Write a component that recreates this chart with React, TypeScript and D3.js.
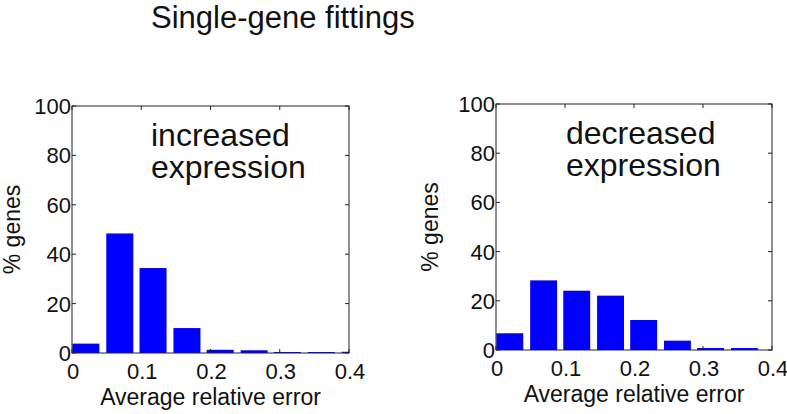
import { useMemo } from "react";
import * as d3 from "d3";

const binCenters = [0.02, 0.069, 0.117, 0.166, 0.214, 0.263, 0.311, 0.36, 0.409];
const increasedValues = [3.8, 48.4, 34.4, 10.1, 1.3, 1.1, 0.4, 0.4, 0.5];
const decreasedValues = [6.8, 28.3, 24.1, 22.1, 12.2, 3.8, 0.8, 0.8, 0];
const xTicks = [0, 0.1, 0.2, 0.3, 0.4];
const yTicks = [0, 20, 40, 60, 80, 100];
const barWidth = 0.039;

const FONT = "'Liberation Sans', Arial, Helvetica, sans-serif";

const Panel = ({ id, left, right, top, bottom, values, labelLines, labelX, yLabelX }) => {
  const xScale = useMemo(
    () => d3.scaleLinear().domain([0, 0.4]).range([left, right]),
    [left, right]
  );
  const yScale = useMemo(
    () => d3.scaleLinear().domain([0, 100]).range([bottom, top]),
    [top, bottom]
  );
  const tick = 4;

  return (
    <g>
      <defs>
        <clipPath id={id}>
          <rect x={left} y={top} width={right - left} height={bottom - top} />
        </clipPath>
      </defs>
      <g clipPath={`url(#${id})`}>
        {binCenters.map((c, i) => (
          <rect
            key={i}
            x={xScale(c - barWidth / 2)}
            y={yScale(values[i])}
            width={xScale(barWidth) - xScale(0)}
            height={yScale(0) - yScale(values[i])}
            fill="#0000ff"
          />
        ))}
      </g>
      <rect
        x={left}
        y={top}
        width={right - left}
        height={bottom - top}
        fill="none"
        stroke="#222"
        strokeWidth={1}
      />
      {xTicks.map((t) => (
        <g key={t}>
          <line x1={xScale(t)} x2={xScale(t)} y1={bottom} y2={bottom - tick} stroke="#222" />
          <line x1={xScale(t)} x2={xScale(t)} y1={top} y2={top + tick} stroke="#222" />
          <text
            x={xScale(t) + 1}
            y={bottom + 26}
            textAnchor="middle"
            fontSize={22}
            fontFamily={FONT}
            fill="#111"
          >
            {t === 0 ? "0" : d3.format(".1f")(t)}
          </text>
        </g>
      ))}
      {yTicks.map((t) => (
        <g key={t}>
          <line x1={left} x2={left + tick} y1={yScale(t)} y2={yScale(t)} stroke="#222" />
          <line x1={right} x2={right - tick} y1={yScale(t)} y2={yScale(t)} stroke="#222" />
          <text
            x={left - 1}
            y={yScale(t) + 8}
            textAnchor="end"
            fontSize={22}
            fontFamily={FONT}
            fill="#111"
          >
            {t}
          </text>
        </g>
      ))}
      <text
        x={(left + right) / 2}
        y={bottom + 52}
        textAnchor="middle"
        fontSize={23}
        fontFamily={FONT}
        fill="#111"
      >
        Average relative error
      </text>
      <text
        transform={`translate(${yLabelX},${(top + bottom) / 2}) rotate(-90)`}
        textAnchor="middle"
        fontSize={23}
        fontFamily={FONT}
        fill="#111"
      >
        % genes
      </text>
      {labelLines.map((line, i) => (
        <text
          key={line}
          x={labelX}
          y={top + 40 + i * 32}
          fontSize={32}
          fontFamily={FONT}
          fill="#111"
        >
          {line}
        </text>
      ))}
    </g>
  );
};

export default function App() {
  return (
    <svg
      width={787}
      height={414}
      style={{ position: "absolute", left: 0, top: 0, background: "#fff" }}
    >
      <rect width={787} height={414} fill="#fff" />
      <text x={151} y={28} fontSize={31} fontFamily={FONT} fill="#111">
        Single-gene fittings
      </text>
      <Panel
        id="clip-left"
        left={72}
        right={349}
        top={106}
        bottom={353}
        values={increasedValues}
        labelLines={["increased", "expression"]}
        labelX={151}
        yLabelX={20}
      />
      <Panel
        id="clip-right"
        left={496}
        right={772}
        top={104}
        bottom={350}
        values={decreasedValues}
        labelLines={["decreased", "expression"]}
        labelX={566}
        yLabelX={438}
      />
    </svg>
  );
}
